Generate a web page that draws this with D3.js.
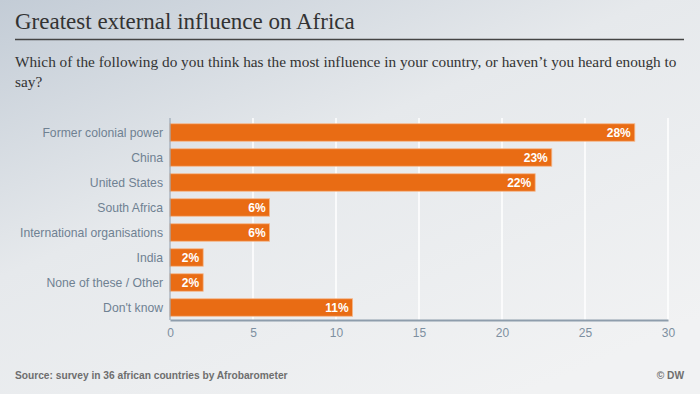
<!DOCTYPE html>
<html>
<head>
<meta charset="utf-8">
<script src="https://d3js.org/d3.v7.min.js"></script>
<style>
  body { margin: 0; }
  .cat { font: 12.2px "Liberation Sans", Arial, sans-serif; fill: #6f8192; }
  .val { font: bold 12px "Liberation Sans", Arial, sans-serif; fill: #fff; }
  .tick text { font: 12px "Liberation Sans", Arial, sans-serif; fill: #7d8fa0; }
</style>
</head>
<body>
<svg></svg>
<script>
var categories = ["Former colonial power", "China", "United States", "South Africa",
  "International organisations", "India", "None of these / Other", "Don't know"];
var values = [28, 23, 22, 6, 6, 2, 2, 11];
var xTicks = [0, 5, 10, 15, 20, 25, 30];

var width = 700, height = 394;
var svg = d3.select("svg").attr("width", width).attr("height", height);

// background gradient
var defs = svg.append("defs");
var grad = defs.append("linearGradient").attr("id", "bg")
  .attr("x1", "0").attr("y1", "0").attr("x2", "0.75").attr("y2", "1");
grad.append("stop").attr("offset", "0").attr("stop-color", "#c3ccd6");
grad.append("stop").attr("offset", "0.45").attr("stop-color", "#e6e9ec");
grad.append("stop").attr("offset", "1").attr("stop-color", "#f1f2f3");
svg.append("rect").attr("width", width).attr("height", height).attr("fill", "url(#bg)");

// title block
svg.append("text").attr("x", 15).attr("y", 29)
  .style("font", "23px 'Liberation Serif', Georgia, serif").style("fill", "#333")
  .text("Greatest external influence on Africa");
svg.append("line").attr("x1", 15).attr("x2", 684).attr("y1", 39.5).attr("y2", 39.5)
  .attr("stroke", "#444").attr("stroke-width", 1.5);
var sub = svg.append("text").style("font", "15.3px 'Liberation Serif', Georgia, serif").style("fill", "#333");
sub.append("tspan").attr("x", 15).attr("y", 67)
  .text("Which of the following do you think has the most influence in your country, or haven\u2019t you heard enough to");
sub.append("tspan").attr("x", 15).attr("y", 87).text("say?");

var margin = { left: 170, right: 32, top: 120, bottom: 75 };
var x = d3.scaleLinear().domain([0, 30]).range([margin.left, width - margin.right]);
var y = d3.scaleBand().domain(categories).range([margin.top, margin.top + 200]).paddingInner(0.3).paddingOuter(0.15);

var g = svg.append("g");

// grid
g.selectAll(".grid").data(xTicks.slice(1)).enter().append("line")
  .attr("x1", d => x(d)).attr("x2", d => x(d))
  .attr("y1", margin.top - 2).attr("y2", margin.top + 200)
  .attr("stroke", "#fff").attr("stroke-width", 1.5);

// bars
g.selectAll(".bar").data(values).enter().append("rect")
  .attr("x", x(0)).attr("y", (d, i) => y(categories[i]))
  .attr("width", d => x(d) - x(0)).attr("height", y.bandwidth())
  .attr("fill", "#e96c14").attr("stroke", "#f4b98e").attr("stroke-width", 0.8);

g.selectAll(".val").data(values).enter().append("text").attr("class", "val")
  .attr("x", d => x(d) - 4).attr("y", (d, i) => y(categories[i]) + y.bandwidth() / 2 + 4)
  .attr("text-anchor", "end").text(d => d + "%");

g.selectAll(".cat").data(categories).enter().append("text").attr("class", "cat")
  .attr("x", x(0) - 7).attr("y", d => y(d) + y.bandwidth() / 2 + 4)
  .attr("text-anchor", "end").text(d => d);

// axes
var xAxis = svg.append("g").attr("transform", "translate(0," + (margin.top + 200) + ")")
  .call(d3.axisBottom(x).tickValues(xTicks).tickSize(0).tickPadding(8));
xAxis.select(".domain").attr("stroke", "#8e9dac").attr("stroke-width", 2);
svg.append("line").attr("x1", x(0)).attr("x2", x(0)).attr("y1", margin.top - 2).attr("y2", margin.top + 200)
  .attr("stroke", "#8e9dac").attr("stroke-width", 1);

// footer
svg.append("text").attr("x", 15).attr("y", 379)
  .style("font", "bold 10.2px 'Liberation Sans', Arial, sans-serif").style("fill", "#6e6e6e")
  .text("Source: survey in 36 african countries by Afrobarometer");
svg.append("text").attr("x", 684).attr("y", 379).attr("text-anchor", "end")
  .style("font", "bold 10.2px 'Liberation Sans', Arial, sans-serif").style("fill", "#6e6e6e")
  .text("\u00a9 DW");
</script>
</body>
</html>
